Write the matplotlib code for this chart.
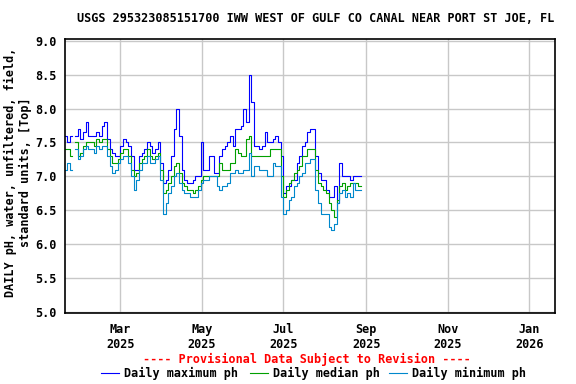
import matplotlib
matplotlib.use("Agg")
import matplotlib.pyplot as plt
import matplotlib.dates as mdates
from matplotlib.lines import Line2D
import numpy as np
import pandas as pd

nan = np.nan

# readings every second day, starting 2025-01-18
start_date = "2025-01-18"

daily_max = [
    7.6, 7.5, 7.6, nan, 7.6, 7.7, 7.55, 7.65, 7.8, 7.6,
    7.6, 7.6, 7.65, 7.6, 7.75, 7.8, 7.55, 7.4, 7.35, 7.3,
    7.3, 7.45, 7.55, 7.5, 7.45, 7.3, 7.1, 7.1, 7.3, 7.35,
    7.4, 7.5, 7.45, 7.35, 7.4, 7.5, 7.2, 6.9, 6.95, 7.1,
    7.3, 7.7, 8.0, 7.6, 7.1, 6.95, 6.9, 6.9, 6.95, 7.0,
    7.0, 7.5, 7.1, 7.1, 7.3, 7.3, 7.05, 7.05, 7.3, 7.4,
    7.45, 7.5, 7.6, 7.45, 7.7, 7.7, 7.75, 8.0, 7.8, 8.5,
    8.1, 7.45, 7.45, 7.4, 7.45, 7.65, 7.5, 7.5, 7.55, 7.6,
    7.5, 7.3, 6.75, 6.85, 6.85, 6.95, 6.95, 7.2, 7.3, 7.45,
    7.5, 7.65, 7.7, 7.7, 7.3, 7.05, 6.95, 6.95, 6.8, 6.7,
    6.7, 6.85, 6.6, 7.2, 7.0, 7.0, 7.0, 6.95, 7.0, 7.0,
    7.0, 7.0,
]

daily_median = [
    7.4, 7.4, 7.3, nan, 7.5, 7.3, 7.35, 7.45, 7.5, 7.5,
    7.5, 7.45, 7.55, 7.5, 7.55, 7.55, 7.4, 7.3, 7.2, 7.2,
    7.25, 7.35, 7.4, 7.4, 7.3, 7.1, 7.0, 7.05, 7.2, 7.25,
    7.3, 7.4, 7.3, 7.25, 7.3, 7.35, 7.1, 6.75, 6.8, 6.9,
    7.0, 7.15, 7.2, 7.05, 6.9, 6.85, 6.8, 6.8, 6.75, 6.8,
    6.85, 6.95, 7.0, 7.0, 7.0, 7.0, 7.0, 7.0, 7.2, 7.1,
    7.1, 7.1, 7.2, 7.2, 7.4, 7.35, 7.3, 7.3, 7.55, 7.6,
    7.3, 7.3, 7.3, 7.3, 7.3, 7.3, 7.3, 7.4, 7.4, 7.4,
    7.4, 7.0, 6.7, 6.8, 6.9, 6.95, 7.05, 7.1, 7.15, 7.3,
    7.3, 7.4, 7.4, 7.4, 7.1, 6.9, 6.85, 6.8, 6.75, 6.6,
    6.5, 6.4, 6.65, 6.85, 6.9, 6.8, 6.85, 6.9, 6.9, 6.9,
    6.85, 6.85,
]

daily_min = [
    7.1, 7.2, 7.1, nan, 7.4, 7.25, 7.3, 7.4, 7.45, 7.4,
    7.4, 7.35, 7.45, 7.4, 7.45, 7.45, 7.3, 7.15, 7.05, 7.1,
    7.2, 7.25, 7.3, 7.3, 7.2, 7.0, 6.8, 6.95, 7.1, 7.2,
    7.2, 7.3, 7.2, 7.2, 7.25, 7.3, 6.95, 6.45, 6.6, 6.75,
    6.85, 7.0, 7.05, 6.9, 6.8, 6.75, 6.75, 6.7, 6.7, 6.7,
    6.8, 6.9, 6.95, 6.95, 7.0, 7.0, 7.0, 6.85, 6.8, 6.85,
    6.85, 6.9, 7.05, 7.05, 7.1, 7.05, 7.05, 7.1, 7.1, 7.35,
    7.0, 7.15, 7.15, 7.1, 7.1, 7.1, 7.0, 7.0, 7.2, 7.15,
    7.15, 6.7, 6.45, 6.5, 6.65, 6.7, 6.85, 6.9, 7.0, 7.05,
    7.2, 7.2, 7.25, 7.25, 6.8, 6.6, 6.45, 6.45, 6.45, 6.25,
    6.2, 6.3, 6.6, 6.75, 6.8, 6.7, 6.75, 6.7, 6.9, 6.8,
    6.8, 6.8,
]

dates = pd.date_range(start_date, periods=len(daily_max), freq="2D")

title = "USGS 295323085151700 IWW WEST OF GULF CO CANAL NEAR PORT ST JOE, FL"
ylabel = "DAILY pH, water, unfiltered, field,\nstandard units, [Top]"
y_ticks = [5.0, 5.5, 6.0, 6.5, 7.0, 7.5, 8.0, 8.5, 9.0]
x_ticks = ["2025-03-01", "2025-05-01", "2025-07-01", "2025-09-01", "2025-11-01", "2026-01-01"]

c_max = "#0000ff"
c_med = "#00a000"
c_min = "#0088cc"

plt.rcParams["font.family"] = "DejaVu Sans Mono"
plt.rcParams["font.weight"] = "bold"
font = {"family": "DejaVu Sans Mono", "weight": "bold", "size": 8.5}

fig = plt.figure(figsize=(5.76, 3.84), dpi=100)
ax = fig.add_axes([64.7 / 576, 1 - 313.3 / 384, (555 - 64.7) / 576, (313.3 - 39.3) / 384])

ax.plot(dates, daily_max, color=c_max, lw=0.8, drawstyle="steps-post")
ax.plot(dates, daily_median, color=c_med, lw=0.8, drawstyle="steps-post")
ax.plot(dates, daily_min, color=c_min, lw=0.8, drawstyle="steps-post")

ax.set_xlim(pd.Timestamp("2025-01-18 08:00"), pd.Timestamp("2026-01-20 08:00"))
ax.set_ylim(4.976, 9.025)
ax.set_yticks(y_ticks)
ax.set_yticklabels(["%.1f" % v for v in y_ticks])
ax.set_xticks(pd.to_datetime(x_ticks))
ax.xaxis.set_major_formatter(mdates.DateFormatter("%b\n%Y"))
ax.tick_params(length=0, pad=6, labelsize=8.5)
ax.tick_params(axis="x", pad=7)
ax.grid(True, color="#c8c8c8", lw=1.0)
ax.set_axisbelow(True)
for s in ax.spines.values():
    s.set_linewidth(1.2)
    s.set_color("black")

fig.text(316 / 576, 1 - 19 / 384, title, ha="center", va="center", **font)
fig.text(18 / 576, 1 - 172 / 384, ylabel, ha="center", va="center", rotation=90,
         multialignment="center", linespacing=1.1, **font)
fig.text(307 / 576, 1 - 359 / 384, "---- Provisional Data Subject to Revision ----",
         ha="center", va="center", color="red", **font)

legend_items = [("Daily maximum ph", c_max, 101), ("Daily median ph", c_med, 250),
                ("Daily minimum ph", c_min, 389)]
for label, color, x0 in legend_items:
    fig.add_artist(Line2D([x0 / 576, (x0 + 18) / 576], [1 - 373 / 384, 1 - 373 / 384],
                          color=color, lw=0.8, transform=fig.transFigure))
    fig.text((x0 + 23) / 576, 1 - 373 / 384, label, ha="left", va="center", **font)

fig.savefig("out.png", dpi=100)
